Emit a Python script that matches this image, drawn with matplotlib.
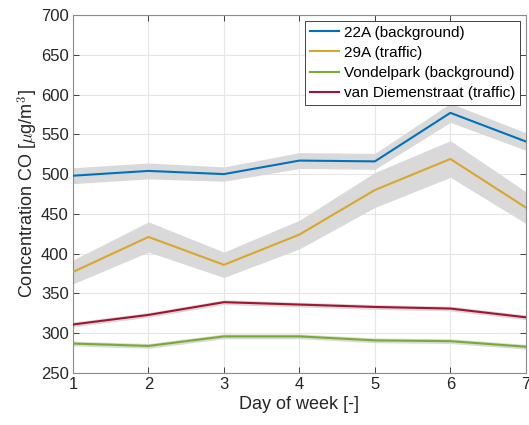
import numpy as np
import matplotlib.pyplot as plt

plt.rcParams['font.family'] = ['Liberation Sans', 'DejaVu Sans']
plt.rcParams['mathtext.fontset'] = 'cm'

days = [1, 2, 3, 4, 5, 6, 7]

# mean values per day of week
co_22a = [498, 504, 500, 517, 516, 577, 541]
co_29a = [377, 421, 386, 424, 480, 519, 458]
co_vondel = [287, 284, 296, 296, 291, 290, 283]
co_diemen = [311, 323, 339, 336, 333, 331, 320]

# uncertainty half-widths
err_22a = [10, 10, 9, 10, 10, 12, 11]
err_29a = [15, 19, 16, 18, 22, 23, 20]
err_vondel = [3, 3, 3, 3, 3, 3, 3]
err_diemen = [3, 3, 3, 3, 3, 3, 3]

labels = ['22A (background)', '29A (traffic)', 'Vondelpark (background)', 'van Diemenstraat (traffic)']
colors = ['#0072BD', '#D9A62E', '#77AC30', '#A2142F']

fig = plt.figure(figsize=(5.29, 4.25), dpi=100)
ax = fig.add_axes([0.138, 0.1224, 0.856, 0.8423])

series = [co_22a, co_29a, co_vondel, co_diemen]
errs = [err_22a, err_29a, err_vondel, err_diemen]
for vals, e in zip(series, errs):
    v = np.array(vals)
    e = np.array(e)
    ax.fill_between(days, v - e, v + e, color='#d9d9d9', lw=0, zorder=2)
for vals, lab, c in zip(series, labels, colors):
    ax.plot(days, vals, color=c, lw=1.5, label=lab, zorder=3)

ax.set_xlim(1, 7)
ax.set_ylim(250, 700)
ax.set_xticks(days)
ax.set_yticks(np.arange(250, 701, 50))
ax.grid(True, color='#e6e6e6', lw=0.8, zorder=0)
ax.set_axisbelow(True)
ax.tick_params(direction='in', top=True, right=True, labelsize=12, colors='#262626',
               length=4, width=0.6, pad=3)
for s in ax.spines.values():
    s.set_color('#8c8c8c')
    s.set_linewidth(0.8)

ax.set_xlabel('Day of week [-]', fontsize=13, color='#262626', labelpad=3)
ax.set_ylabel(r'Concentration CO [$\mu$g/m$^3$]', fontsize=13, color='#262626', labelpad=1)

leg = ax.legend(loc='upper right', fontsize=11, fancybox=False, framealpha=1,
                edgecolor='#262626', handlelength=1.9, borderpad=0.3,
                labelspacing=0.4, handletextpad=0.3, borderaxespad=0.4)
leg.get_frame().set_linewidth(0.6)

fig.savefig('out.png', dpi=100)
